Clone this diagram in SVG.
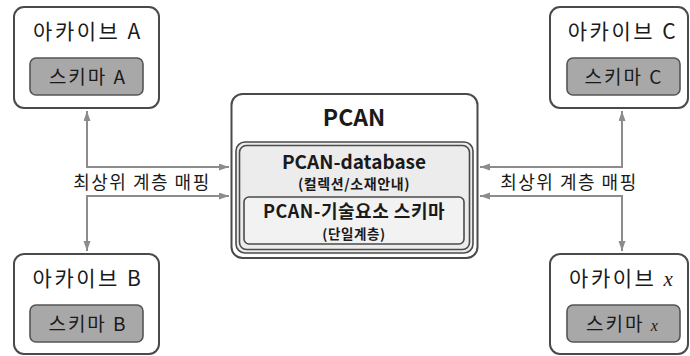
<svg xmlns="http://www.w3.org/2000/svg" width="690" height="356" viewBox="0 0 690 356">
<defs>
<marker id="ah" markerUnits="userSpaceOnUse" markerWidth="11" markerHeight="8" refX="10" refY="3.5" orient="auto-start-reverse"><path d="M0,0 L10,3.5 L0,7 z" fill="#8c8c8c"/></marker>
<style>
.box{fill:#fff;stroke:#4a4a4a;stroke-width:2}
.sch{fill:#a8a8a8;stroke:#555;stroke-width:1.6}
.t{font-family:"Noto Sans CJK KR","Noto Sans",sans-serif;fill:#1a1a1a;text-anchor:middle}
.title{font-size:21px;letter-spacing:2.5px}
.st{font-size:19px;letter-spacing:2px}
.lb{font-size:18px;letter-spacing:1.5px}
.b{font-weight:bold}
.it{font-family:"Liberation Serif",serif;font-style:italic}
.con{fill:none;stroke:#8c8c8c;stroke-width:2;marker-start:url(#ah);marker-end:url(#ah)}
</style>
</defs>
<g id="connectors">
<path class="con" d="M87,111 V167 H229"/>
<path class="con" d="M87,251 V196 H229"/>
<path class="con" d="M622,111 V167 H480"/>
<path class="con" d="M622,251 V196 H480"/>
<text class="t lb" x="142" y="189">최상위 계층 매핑</text>
<text class="t lb" x="569" y="189">최상위 계층 매핑</text>
</g>
<g id="archiveA">
<rect class="box" x="14" y="7" width="145" height="101" rx="10"/>
<text class="t title" x="88" y="39">아카이브 A</text>
<rect class="sch" x="30" y="58" width="113" height="37" rx="6"/>
<text class="t st" x="88" y="84">스키마 A</text>
</g>
<g id="archiveB">
<rect class="box" x="14" y="254" width="145" height="100" rx="10"/>
<text class="t title" x="88" y="286">아카이브 B</text>
<rect class="sch" x="30" y="305" width="113" height="37" rx="6"/>
<text class="t st" x="88" y="331">스키마 B</text>
</g>
<g id="archiveC">
<rect class="box" x="550" y="7" width="138" height="101" rx="10"/>
<text class="t title" x="623" y="39">아카이브 C</text>
<rect class="sch" x="567" y="58" width="113" height="37" rx="6"/>
<text class="t st" x="624" y="84">스키마 C</text>
</g>
<g id="archiveX">
<rect class="box" x="550" y="254" width="138" height="100" rx="10"/>
<text class="t title" x="621" y="286">아카이브 <tspan class="it" letter-spacing="0">x</tspan></text>
<rect class="sch" x="567" y="305" width="113" height="37" rx="6"/>
<text class="t st" x="622" y="331">스키마 <tspan class="it" font-size="16" letter-spacing="0">x</tspan></text>
</g>
<g id="pcan">
<rect class="box" x="231.5" y="94" width="246" height="164" rx="11"/>
<text class="t b" x="354" y="126" font-size="23">PCAN</text>
<rect x="236" y="142" width="237" height="111" rx="9" fill="#ececec" stroke="#4a4a4a" stroke-width="1.6"/>
<rect x="239.5" y="145.5" width="230" height="104" rx="7" fill="none" stroke="#4a4a4a" stroke-width="1.6"/>
<text class="t b" x="354" y="169" font-size="19">PCAN-database</text>
<text class="t b" x="354" y="189" font-size="14" letter-spacing="0.6">(컬렉션/소재안내)</text>
</g>
<g id="pcanSchema">
<rect x="244" y="197" width="220" height="47" rx="5" fill="#f2f2f2" stroke="#4a4a4a" stroke-width="1.6"/>
<text class="t b" x="354" y="218" font-size="18" letter-spacing="0.5">PCAN-기술요소 스키마</text>
<text class="t b" x="354" y="238.5" font-size="13.5" letter-spacing="0.6">(단일계층)</text>
</g>
</svg>
